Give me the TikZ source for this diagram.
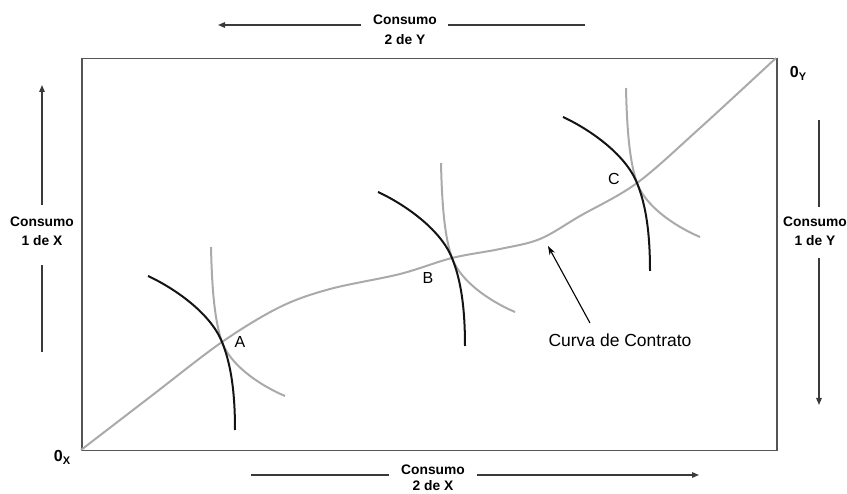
\documentclass[tikz,border=0pt]{standalone}
\usepackage{fontspec}
\setmainfont{Liberation Sans}
\usetikzlibrary{arrows.meta}
\definecolor{boxc}{HTML}{555555}
\definecolor{arrc}{HTML}{3A3A3A}
\definecolor{curvc}{HTML}{AAAAAA}
\begin{document}
\begin{tikzpicture}[x=1pt,y=-1pt,
  axtext/.style={font=\bfseries\fontsize{13.8}{16}\selectfont, anchor=base, inner sep=0pt},
  axline/.style={draw=arrc, line width=1.3pt},
  axarrow/.style={axline, -{Triangle[length=7pt,width=5.5pt]}},
  icblack/.style={draw=black!92, line width=2pt},
  icgray/.style={draw=curvc, line width=2pt},
  contract/.style={draw=curvc, line width=2pt},
  ptlabel/.style={font=\fontsize{16}{18}\selectfont, inner sep=0pt},
  cclabel/.style={font=\fontsize{17.5}{20}\selectfont, inner sep=0pt},
  originlabel/.style={font=\bfseries\fontsize{16}{18}\selectfont, inner sep=0pt},
  pointer/.style={draw=black, line width=1.1pt, -{Stealth[length=9pt,width=6pt]}},
  icpair/.pic={
    \draw[icgray] (-11,-95) .. controls (-10,-50) and (-7,-20) .. (0,0)
                  .. controls (8,22) and (35,42) .. (63,54);
    \draw[icblack] (-74,-66) .. controls (-50,-55) and (-12,-30) .. (0,0)
                  .. controls (9,22) and (13,50) .. (13,88);
  }]
\useasboundingbox (0,0) rectangle (847,494);

% box
\node[draw=boxc, line width=1.5pt, minimum width=695pt, minimum height=392pt,
      inner sep=0pt, anchor=north west] (box) at (81,58) {};

% contract curve
\draw[contract] plot[smooth, tension=0.55] coordinates {(81,450) (150,397) (222,342) (280,307) (330,289) (400,274) (452,258) (500,249) (540,239) (580,216) (637,183) (700,128) (776,58)};

% tangency points
\coordinate (A) at (222,342);
\coordinate (B) at (452,258);
\coordinate (C) at (637,183);
\pic at (A) {icpair};
\pic at (B) {icpair};
\pic at (C) {icpair};

\node[ptlabel] (lA) at (240,342) {A};
\node[ptlabel] (lB) at (428,278) {B};
\node[ptlabel] (lC) at (614,179) {C};

% contract curve label
\node[cclabel] (cc) at (620,340) {Curva de Contrato};
\coordinate (ccTail) at (590,323);
\coordinate (ccTip) at (548,246);
\draw[pointer] (ccTail) -- (ccTip);

% origins
\node[originlabel] (ox) at (62,457) {0\raisebox{-0.35ex}{\fontsize{11}{12}\selectfont X}};
\node[originlabel] (oy) at (798,73) {0\raisebox{-0.35ex}{\fontsize{11}{12}\selectfont Y}};

% top axis label
\node[axtext] (ty1) at (405,25) {Consumo};
\node[axtext] (ty2) at (405,45) {2 de Y};
\coordinate (tyL) at (218,25);
\coordinate (tyR) at (585,25);
\draw[axarrow] ([xshift=-12pt]ty1.base west) -- (tyL);
\draw[axline] ([xshift=11pt]ty1.base east) -- (tyR);

% bottom axis label
\node[axtext] (bx1) at (433,475) {Consumo};
\node[axtext] (bx2) at (433,491) {2 de X};
\coordinate (bxL) at (251,475);
\coordinate (bxR) at (699,475);
\draw[axline] ([xshift=-12pt]bx1.base west) -- (bxL);
\draw[axarrow] ([xshift=12pt]bx1.base east) -- (bxR);

% left axis label
\node[axtext] (lx1) at (42,227) {Consumo};
\node[axtext] (lx2) at (42,246) {1 de X};
\coordinate (lxT) at (42,85);
\coordinate (lxB) at (42,352);
\coordinate (lxU) at (42,205);
\coordinate (lxD) at (42,265);
\draw[axarrow] (lxU) -- (lxT);
\draw[axline] (lxD) -- (lxB);

% right axis label
\node[axtext] (ry1) at (815,227) {Consumo};
\node[axtext] (ry2) at (815,246) {1 de Y};
\coordinate (ryT) at (819,120);
\coordinate (ryU) at (819,207);
\coordinate (ryD) at (819,258);
\coordinate (ryB) at (819,405);
\draw[axline] (ryT) -- (ryU);
\draw[axarrow] (ryD) -- (ryB);
\end{tikzpicture}
\end{document}
